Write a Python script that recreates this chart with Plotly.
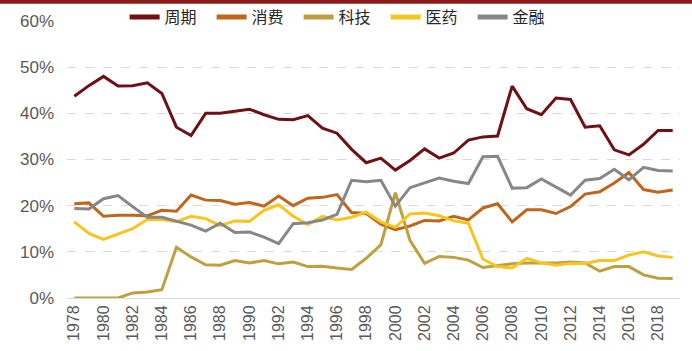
import plotly.graph_objects as go

years = list(range(1978, 2020))
cyclical = [43.7, 46.0, 48.0, 45.9, 46.0, 46.6, 44.3, 37.0, 35.2, 40.0, 40.0, 40.5, 40.9, 39.7,
            38.7, 38.6, 39.5, 36.8, 35.7, 32.2, 29.3, 30.3, 27.7, 29.8, 32.3, 30.3, 31.4, 34.2,
            34.9, 35.1, 45.9, 41.0, 39.7, 43.3, 43.0, 37.0, 37.3, 32.1, 31.0, 33.3, 36.3, 36.3]
consumer = [20.4, 20.6, 17.7, 17.9, 17.9, 17.8, 19.0, 18.8, 22.3, 21.2, 21.1, 20.3, 20.7, 19.9,
            22.1, 20.0, 21.6, 21.8, 22.4, 18.5, 18.3, 16.0, 14.8, 15.6, 16.8, 16.7, 17.7, 16.9,
            19.5, 20.4, 16.5, 19.1, 19.1, 18.3, 19.8, 22.5, 23.0, 24.9, 27.2, 23.5, 22.9, 23.4]
tech = [0.0, 0.0, 0.0, 0.0, 1.1, 1.3, 1.8, 11.0, 8.9, 7.2, 7.1, 8.1, 7.6, 8.1,
        7.4, 7.8, 6.8, 6.9, 6.5, 6.2, 8.6, 11.5, 22.8, 12.5, 7.5, 9.0, 8.8, 8.2,
        6.6, 7.0, 7.4, 7.6, 7.6, 7.6, 7.8, 7.6, 5.8, 6.8, 6.8, 5.0, 4.3, 4.2]
pharma = [16.5, 14.0, 12.7, 13.9, 15.0, 17.0, 17.0, 16.5, 17.7, 17.2, 15.7, 16.7, 16.6, 19.0,
          20.2, 17.7, 15.9, 17.7, 16.9, 17.5, 18.6, 16.5, 15.3, 18.2, 18.4, 17.8, 16.7, 16.2,
          8.4, 6.8, 6.5, 8.6, 7.6, 7.1, 7.5, 7.5, 8.1, 8.1, 9.3, 10.0, 9.1, 8.8]
finance = [19.4, 19.3, 21.5, 22.2, 19.8, 17.5, 17.5, 16.7, 15.8, 14.5, 16.2, 14.2, 14.3, 13.2,
           11.8, 16.1, 16.3, 16.9, 18.1, 25.5, 25.2, 25.5, 19.9, 23.9, 25.0, 26.0, 25.3, 24.8,
           30.6, 30.7, 23.8, 23.9, 25.8, 24.1, 22.3, 25.5, 25.9, 27.9, 25.6, 28.3, 27.6, 27.5]

series = [
    ("周期", cyclical, "#6E1014"),
    ("消费", consumer, "#C0661C"),
    ("科技", tech, "#BFA040"),
    ("医药", pharma, "#F7C520"),
    ("金融", finance, "#878787"),
]

fig = go.Figure()
for name, vals, color in series:
    fig.add_trace(go.Scatter(
        x=years, y=[v / 100 for v in vals], name=name, mode="lines",
        line=dict(color=color, width=3)))

fig.update_layout(
    width=692, height=351,
    margin=dict(l=67, r=12, t=21, b=53, autoexpand=False),
    paper_bgcolor="white", plot_bgcolor="white",
    font=dict(family="Liberation Sans, Arial, sans-serif", color="#595959"),
    showlegend=True,
    legend=dict(orientation="h", x=0.094, y=1.014, xanchor="left", yanchor="middle",
                bgcolor="rgba(0,0,0,0)", entrywidth=42, entrywidthmode="pixels",
                font=dict(family="Noto Sans CJK SC", size=16, color="#262626"),
                itemsizing="constant"),
    xaxis=dict(range=[1977.5, 2019.5], tickmode="linear", tick0=1978, dtick=2,
               tickangle=-90, showgrid=False, showline=True, linecolor="#D9D9D9",
               linewidth=1, zeroline=False,
               tickfont=dict(size=16, color="#595959"), ticks=""),
    yaxis=dict(range=[0, 0.6], tickvals=[0, 0.1, 0.2, 0.3, 0.4, 0.5, 0.6],
               tickformat=".0%", showgrid=True, gridcolor="#D9D9D9", griddash="dash",
               gridwidth=1, zeroline=False, showline=False,
               tickfont=dict(size=17, color="#595959"), ticklabelstandoff=12),
    shapes=[dict(type="rect", xref="paper", yref="paper",
                 x0=-0.12, x1=1.03, y0=1.062, y1=1.078,
                 fillcolor="#8B1A1A", line=dict(width=0), layer="above")],
)

fig.write_html("out.html")
